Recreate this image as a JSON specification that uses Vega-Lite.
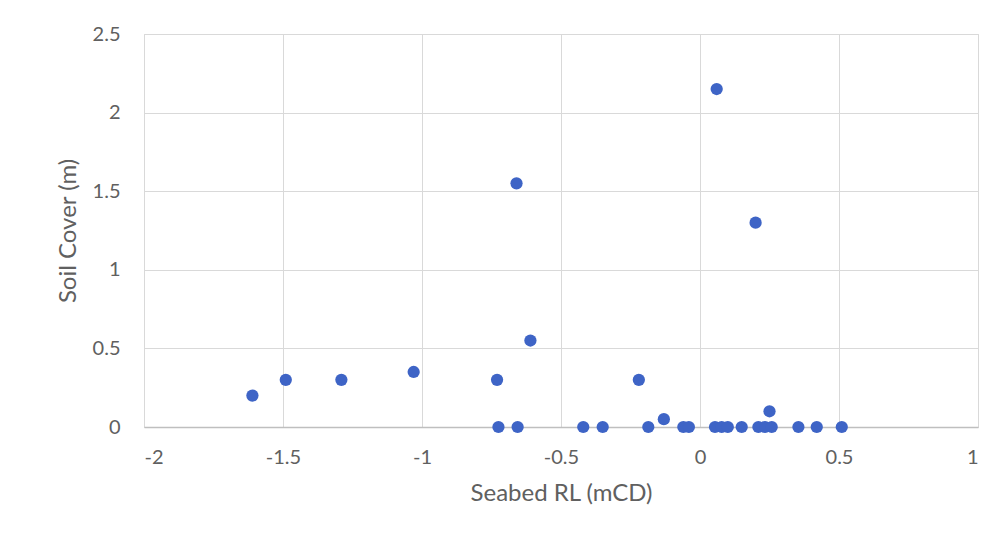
{
  "$schema": "https://vega.github.io/schema/vega-lite/v6.json",
  "width": 834,
  "height": 393,
  "autosize": "none",
  "padding": {"left": 144, "top": 34, "right": 22, "bottom": 107},
  "background": "white",
  "data": {
    "values": [
      {"x": -1.61, "y": 0.2},
      {"x": -1.49, "y": 0.3},
      {"x": -1.29, "y": 0.3},
      {"x": -1.03, "y": 0.35},
      {"x": -0.73, "y": 0.3},
      {"x": -0.66, "y": 1.55},
      {"x": -0.61, "y": 0.55},
      {"x": -0.22, "y": 0.3},
      {"x": 0.06, "y": 2.15},
      {"x": 0.2, "y": 1.3},
      {"x": 0.25, "y": 0.1},
      {"x": -0.13, "y": 0.05},
      {"x": -0.725, "y": 0},
      {"x": -0.656, "y": 0},
      {"x": -0.42, "y": 0},
      {"x": -0.35, "y": 0},
      {"x": -0.186, "y": 0},
      {"x": -0.06, "y": 0},
      {"x": -0.04, "y": 0},
      {"x": 0.054, "y": 0},
      {"x": 0.078, "y": 0},
      {"x": 0.1, "y": 0},
      {"x": 0.15, "y": 0},
      {"x": 0.21, "y": 0},
      {"x": 0.234, "y": 0},
      {"x": 0.258, "y": 0},
      {"x": 0.354, "y": 0},
      {"x": 0.42, "y": 0},
      {"x": 0.51, "y": 0}
    ]
  },
  "mark": {"type": "point", "filled": true, "size": 150, "opacity": 1, "color": "#3E64C6"},
  "encoding": {
    "x": {
      "field": "x", "type": "quantitative",
      "scale": {"domain": [-2, 1], "nice": false, "zero": false},
      "axis": {"values": [-2, -1.5, -1, -0.5, 0, 0.5, 1], "labelExpr": "datum.value + ''", "title": "Seabed RL (mCD)", "titlePadding": 14, "labelPadding": 20}
    },
    "y": {
      "field": "y", "type": "quantitative",
      "scale": {"domain": [0, 2.5], "nice": false},
      "axis": {"values": [0, 0.5, 1, 1.5, 2, 2.5], "labelExpr": "datum.value + ''", "title": "Soil Cover (m)", "titlePadding": 12, "labelPadding": 24}
    }
  },
  "config": {
    "view": {"stroke": "#d9d9d9", "strokeWidth": 1},
    "axis": {
      "grid": true,
      "gridColor": "#d9d9d9",
      "gridWidth": 1,
      "domain": false,
      "ticks": false,
      "labelFont": "Lato",
      "labelFontSize": 20,
      "labelColor": "#606060",
      "titleFont": "Lato",
      "titleFontSize": 24,
      "titleFontWeight": "normal",
      "titleColor": "#606060"
    },
    "axisX": {"domain": true, "domainColor": "#bfbfbf", "domainWidth": 1.5}
  }
}
